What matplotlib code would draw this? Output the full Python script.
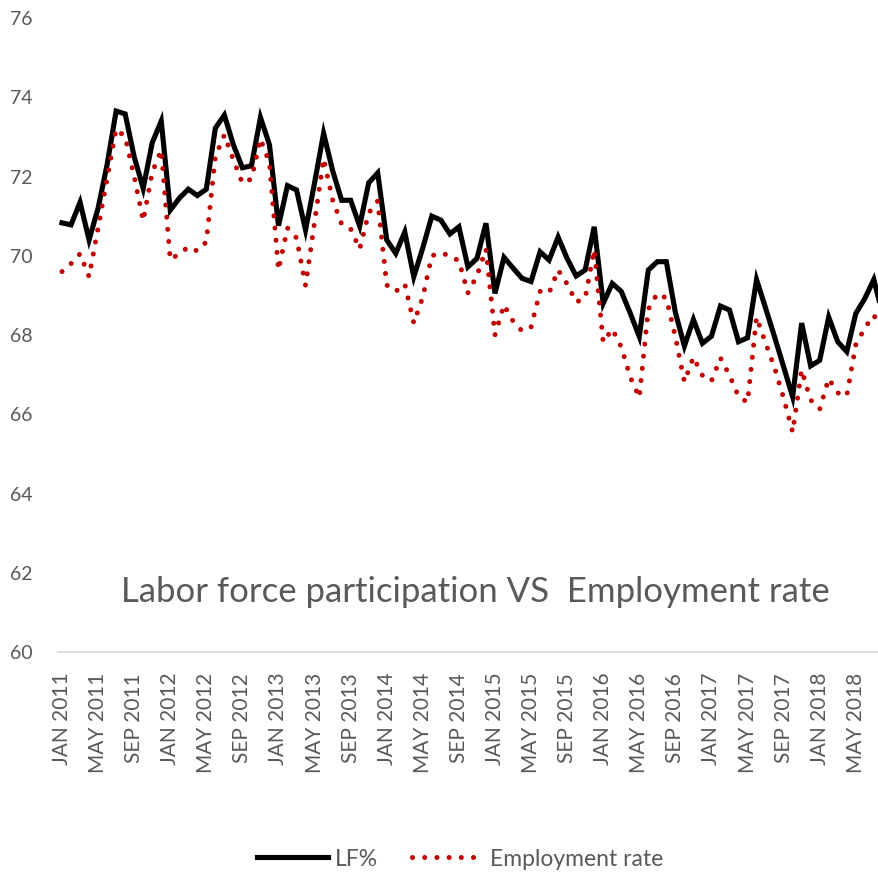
import matplotlib
matplotlib.use("Agg")
import matplotlib.pyplot as plt

# monthly series, Jan 2011 .. Aug 2018
lf = [
    70.83, 70.78, 71.35, 70.40, 71.20, 72.30, 73.65, 73.58, 72.50, 71.70,
    72.85, 73.40, 71.15, 71.45, 71.68, 71.52, 71.68, 73.22, 73.55, 72.80,
    72.22, 72.27, 73.49, 72.80, 70.76, 71.77, 71.66, 70.65, 71.84, 73.09,
    72.15, 71.40, 71.40, 70.75, 71.84, 72.09, 70.40, 70.06, 70.60, 69.47,
    70.20, 71.00, 70.90, 70.55, 70.73, 69.72, 69.93, 70.82, 69.05, 69.96,
    69.69, 69.43, 69.35, 70.10, 69.89, 70.47, 69.93, 69.49, 69.64, 70.73,
    68.80, 69.30, 69.10, 68.55, 67.96, 69.64, 69.85, 69.85, 68.57, 67.72,
    68.39, 67.79, 67.97, 68.73, 68.63, 67.83, 67.93, 69.40, 68.68, 67.95,
    67.20, 66.44, 68.30, 67.22, 67.36, 68.45, 67.83, 67.58, 68.54, 68.92,
    69.40, 68.50,
]
emp = [
    69.60, 69.80, 70.05, 69.47, 70.70, 71.95, 73.20, 73.00, 72.00, 70.88,
    72.10, 72.67, 69.90, 70.05, 70.22, 70.12, 70.35, 72.50, 73.05, 72.42,
    71.83, 71.94, 72.95, 72.34, 69.64, 70.70, 70.45, 69.25, 70.85, 72.45,
    71.41, 70.80, 70.68, 70.17, 71.08, 71.38, 69.26, 69.10, 69.29, 68.30,
    68.96, 70.00, 70.07, 70.00, 69.87, 69.06, 69.50, 70.17, 68.00, 68.76,
    68.35, 68.10, 68.20, 69.10, 69.06, 69.64, 69.29, 68.83, 68.93, 70.15,
    67.82, 68.15, 67.70, 66.94, 66.42, 68.65, 69.05, 68.93, 67.95, 66.82,
    67.44, 66.98, 66.84, 67.42, 66.98, 66.45, 66.30, 68.45, 67.80, 67.17,
    66.41, 65.55, 67.12, 66.36, 66.13, 66.90, 66.54, 66.46, 67.75, 68.18,
    68.50, 68.10,
]
month_names = ["JAN", "FEB", "MAR", "APR", "MAY", "JUN",
               "JUL", "AUG", "SEP", "OCT", "NOV", "DEC"]
start_year = 2011

months = [f"{month_names[i % 12]} {start_year + i // 12}" for i in range(len(lf))]
x = list(range(len(lf)))

plt.rcParams["font.family"] = ["Lato", "DejaVu Sans"]
grey = "#595959"

fig = plt.figure(figsize=(8.79, 8.72), dpi=100)
ax = fig.add_axes([57.5 / 879, 220 / 872, (92 * 9.02) / 879, 634 / 872])

ax.plot(x, lf, color="black", lw=3.7, solid_joinstyle="miter", label="LF%")
ax.plot(x, emp, color="#c00000", lw=3.6, linestyle=(0, (0.01, 2.43)),
        dash_capstyle="round", label="Employment rate")

ax.set_xlim(-0.5, len(lf) - 0.5)
ax.set_ylim(60, 76)
ax.set_yticks(range(60, 77, 2))
ax.set_xticks(x[::4])
ax.set_xticklabels(months[::4], rotation=90, va="top", ha="center")

for side in ["top", "right", "left"]:
    ax.spines[side].set_visible(False)
ax.spines["bottom"].set_color("#d9d9d9")
ax.spines["bottom"].set_linewidth(1.2)
ax.tick_params(axis="x", length=0, pad=15, labelsize=15, labelcolor=grey)
ax.tick_params(axis="y", length=0, pad=18, labelsize=14, labelcolor=grey)

fig.text(475 / 879, 1 - 592 / 872, "Labor force participation VS  Employment rate",
         ha="center", va="center", fontsize=25, color=grey)

fig.legend(loc="center", bbox_to_anchor=(460 / 879, 1 - 859 / 872), ncol=2,
           frameon=False, fontsize=16.5, labelcolor=grey, handlelength=3.1,
           handletextpad=0.3, columnspacing=1.5)

fig.savefig("out.png", dpi=100)
